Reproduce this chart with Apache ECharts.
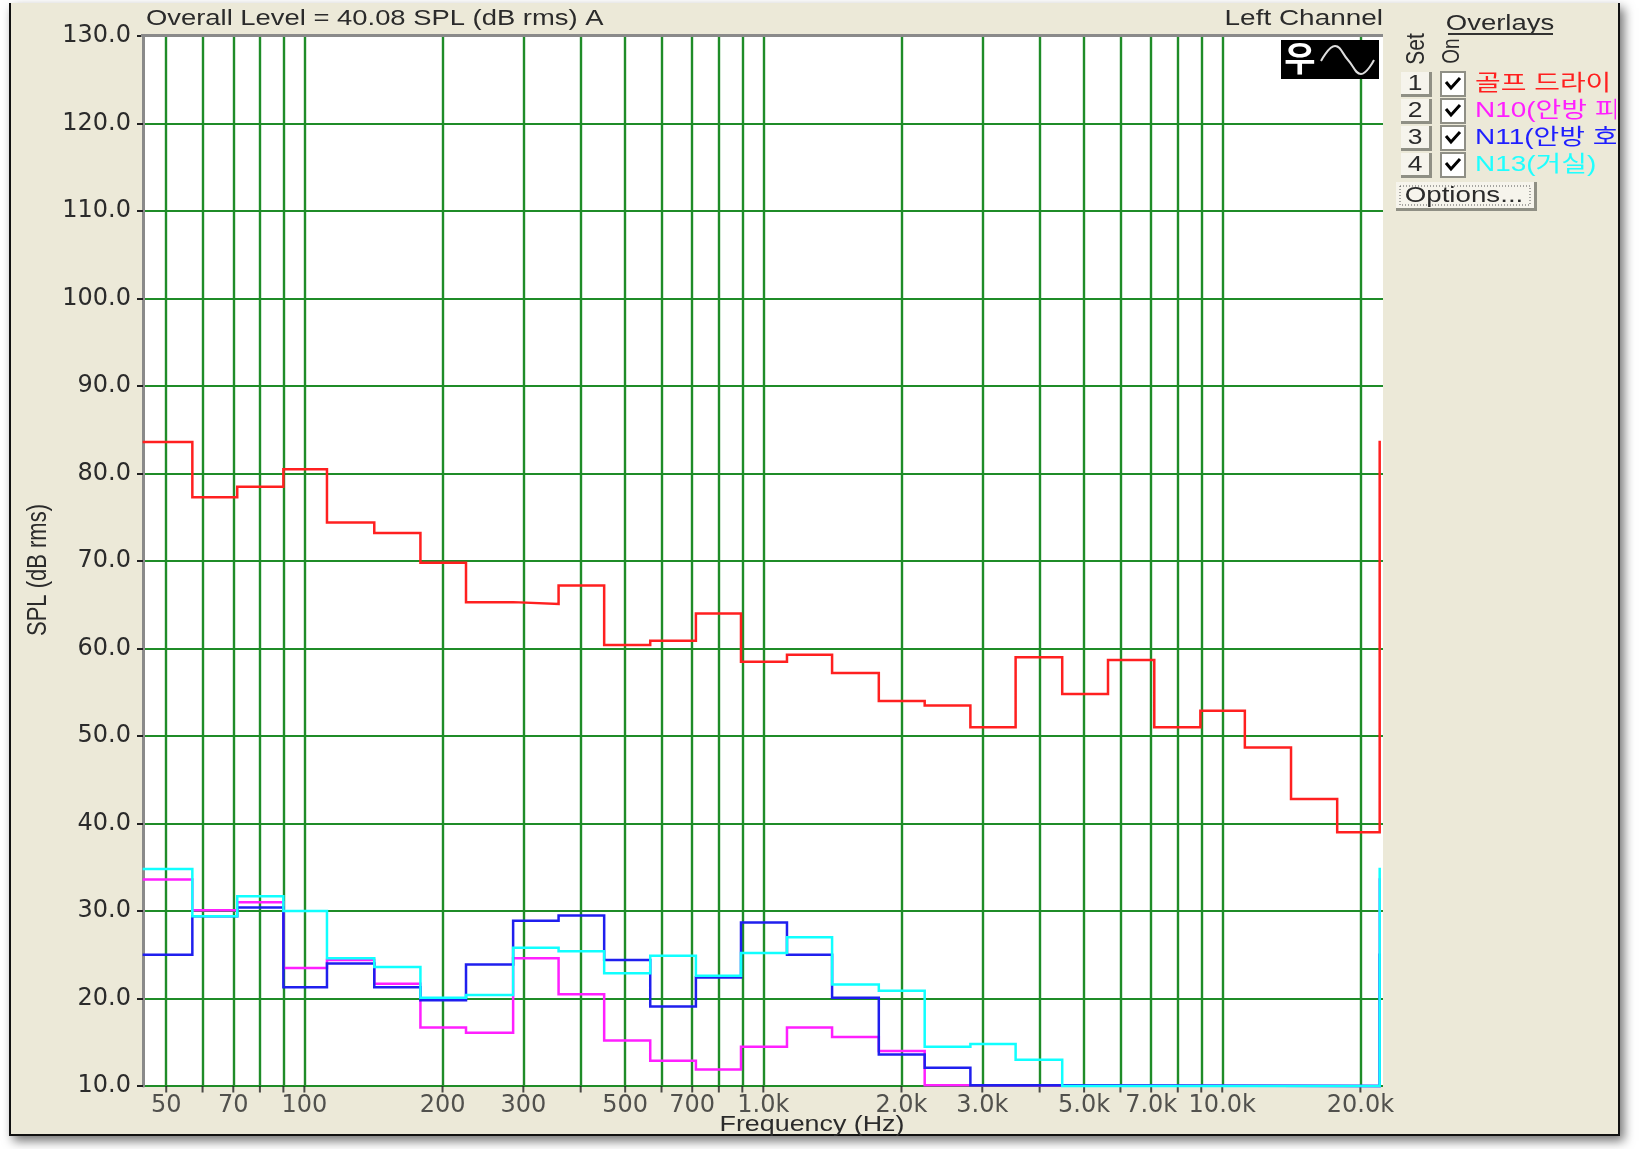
<!DOCTYPE html>
<html lang="en">
<head>
    <meta charset="UTF-8">
    <title>SPL overlays</title>
    <style>
        html, body { margin: 0; padding: 0; background: #fff; }
        #chart { width: 1644px; height: 1149px; }
    </style>
    <script src="https://cdn.jsdelivr.net/npm/echarts@6/dist/echarts.min.js"></script>
</head>
<body>
    <div id="chart"></div>
<script>
    // 1/3 octave band edges in Hz
    var bandEdges = [44.7, 57, 71.4, 90, 112, 142, 179, 225, 285, 358, 450, 567, 713, 894, 1126, 1412,
        1785, 2247, 2826, 3546, 4480, 5637, 7110, 8960, 11200, 14120, 17800, 22030];

    var golfValues = [83.6, 77.3, 78.5, 80.5, 74.4, 73.2, 69.8, 65.3, 65.1, 67.2, 60.4, 60.9, 64.0, 58.5, 59.3, 57.2,
        54.0, 53.5, 51.0, 59.0, 54.8, 58.7, 51.0, 52.9, 48.7, 42.8, 39.0];
    var n10Values = [33.6, 30.1, 31.0, 23.5, 24.4, 21.7, 16.7, 16.1, 24.6, 20.5, 15.2, 12.9, 11.9, 14.5, 16.7, 15.6,
        14.0, 10.1, 10, 10, 10, 10, 10, 10, 10, 10, 10];
    var n11Values = [25.0, 29.4, 30.4, 21.3, 24.0, 21.3, 19.8, 23.9, 28.9, 29.5, 24.4, 19.1, 22.4, 28.7, 25.0, 20.1,
        13.6, 12.1, 10.1, 10.1, 10, 10, 10, 10, 10, 10, 10];
    var n13Values = [34.8, 29.4, 31.7, 30.0, 24.6, 23.6, 20.1, 20.4, 25.8, 25.4, 22.9, 24.9, 22.6, 25.2, 27.0, 21.6,
        20.9, 14.5, 14.8, 13.0, 10, 10, 10, 10, 10, 10, 10];

    var gridFreqs = [50, 60, 70, 80, 90, 100, 200, 300, 400, 500, 600, 700, 800, 900, 1000, 2000, 3000, 4000, 5000,
        6000, 7000, 8000, 9000, 10000, 20000];
    var tickLabels = {50: '50', 70: '70', 100: '100', 200: '200', 300: '300', 500: '500', 700: '700', 1000: '1.0k',
        2000: '2.0k', 3000: '3.0k', 5000: '5.0k', 7000: '7.0k', 10000: '10.0k', 20000: '20.0k'};

    var overlayNames = ['골프 드라이', 'N10(안방 피', 'N11(안방 호', 'N13(거실)'];
    var overlayColors = ['#ff1f1f', '#ff1fff', '#1f1fff', '#1fffff'];

    var FONT = '"Liberation Sans", Arial, sans-serif';
    var AXIS_FONT = '"DejaVu Sans", sans-serif';
    var TEXT = '#2b2b2b';
    var PANEL = '#ece9d8';
    var GREEN = '#1f8c28';

    // steps, then the trace jumps back to the first band at the right edge
    function stepPoints(values) {
        var pts = [];
        for (var i = 0; i < values.length; i++) {
            if (i === 0 || values[i] !== values[i - 1]) {
                pts.push([bandEdges[i], values[i]]);
            }
            if (i === values.length - 1 || values[i] !== values[i + 1]) {
                pts.push([bandEdges[i + 1], values[i]]);
            }
        }
        pts.push([bandEdges[bandEdges.length - 1], values[0]]);
        return pts;
    }

    function traceSeries(name, values, color, z) {
        return {
            name: name,
            type: 'line',
            data: stepPoints(values),
            showSymbol: false,
            clip: false,
            z: z,
            lineStyle: { color: color, width: 2.5, cap: 'square', join: 'miter' }
        };
    }

    // the source window's text is stretched sideways, so scale it
    function label(text, x, y, size, align, stretch) {
        return {
            type: 'text', x: x, y: y, scaleX: stretch || 1, z: 50,
            style: { text: text, font: size + 'px ' + FONT, fill: TEXT, align: align || 'left', verticalAlign: 'middle' }
        };
    }

    function sideLabel(text, x, y, size) {
        return {
            type: 'text', x: x, y: y, rotation: Math.PI / 2, scaleY: 1.25, z: 50,
            style: { text: text, font: size + 'px ' + FONT, fill: TEXT, align: 'center', verticalAlign: 'middle' }
        };
    }

    function button(x, y, w, h) {
        return [
            { type: 'rect', shape: { x: x, y: y, width: w, height: h }, z: 40, style: { fill: '#8f8f84' } },
            { type: 'rect', shape: { x: x, y: y, width: w - 3, height: h - 3 }, z: 41, style: { fill: '#f6f4ec' } }
        ];
    }

    // overlay panel on the right and the window frame
    var graphics = [
        { type: 'rect', shape: { x: 9, y: 3, width: 1611, height: 1133 }, z: -20,
            style: { fill: '#111', shadowBlur: 10, shadowColor: 'rgba(0,0,0,0.55)', shadowOffsetX: 4, shadowOffsetY: 5 } },
        { type: 'rect', shape: { x: 11, y: 3, width: 1607, height: 1131 }, z: -19, style: { fill: PANEL } },
        { type: 'rect', shape: { x: 141, y: 34, width: 1242, height: 3 }, z: 20, style: { fill: '#8a8a8a' } },
        label('Overall Level = 40.08 SPL (dB rms) A', 146, 19, 22, 'left', 1.245),
        label('Left Channel', 1383, 19, 22, 'right', 1.27),
        label('Frequency (Hz)', 812, 1125, 22, 'center', 1.22),
        sideLabel('SPL (dB rms)', 38, 570, 22),
        // black filter badge
        { type: 'rect', shape: { x: 1281, y: 40, width: 98, height: 39 }, z: 30, style: { fill: '#000' } },
        { type: 'text', x: 1300, y: 58, z: 31,
            style: { text: '우', font: 'bold 34px "Noto Sans CJK KR"', fill: '#fff', align: 'center', verticalAlign: 'middle' } },
        { type: 'polyline', z: 31, shape: { points: [[1321, 61], [1335, 46], [1348, 60], [1361, 74], [1374, 60]], smooth: 0.45 },
            style: { stroke: '#ddd', fill: null, lineWidth: 2 } },
        label('Overlays', 1500, 24, 22, 'center', 1.25),
        { type: 'rect', shape: { x: 1448, y: 33, width: 105, height: 2 }, z: 50, style: { fill: '#333' } },
        sideLabel('Set', 1417, 49, 21),
        sideLabel('On', 1452, 51, 19)
    ];

    var rowY = [84, 111, 138, 165];
    overlayNames.forEach(function (name, i) {
        var y = rowY[i];
        graphics = graphics.concat(button(1401, y - 12, 31, 25));
        graphics.push(label(String(i + 1), 1415, y, 22, 'center', 1.2));
        graphics.push({ type: 'rect', shape: { x: 1441, y: y - 12, width: 24, height: 24 }, z: 40,
            style: { fill: '#fff', stroke: '#8f8f86', lineWidth: 2 } });
        graphics.push({ type: 'polyline', shape: { points: [[1446, y - 2], [1451, y + 4], [1460, y - 6]] }, z: 41,
            style: { stroke: '#000', fill: null, lineWidth: 3 } });
        graphics.push({ type: 'text', x: 1475, y: y, scaleX: 1.27, z: 45,
            style: { text: name, font: '22px ' + FONT + ', "Noto Sans CJK KR"', fill: overlayColors[i], align: 'left', verticalAlign: 'middle' } });
    });
    graphics = graphics.concat(button(1396, 182, 141, 29));
    graphics.push(
        { type: 'rect', shape: { x: 1400, y: 186, width: 130, height: 19 }, z: 42, style: { fill: 'none', stroke: '#555', lineWidth: 1, lineDash: [1, 2] } },
        label('Options...', 1464, 196, 22, 'center', 1.26),
        // names run past the panel and get cut off by the frame
        { type: 'rect', shape: { x: 1616, y: 60, width: 2, height: 120 }, z: 47, style: { fill: PANEL } },
        { type: 'rect', shape: { x: 1618, y: 60, width: 2, height: 120 }, z: 47, style: { fill: '#111' } }
    );

    var chart = echarts.init(document.getElementById('chart'), null, { renderer: 'canvas' });
    chart.setOption({
        animation: false,
        backgroundColor: '#fff',
        graphic: graphics,
        grid: { left: 143, right: 261, top: 36, bottom: 63, show: true, backgroundColor: '#fff', borderWidth: 0 },
        xAxis: {
            type: 'log',
            logBase: 10,
            min: 44.5,
            max: 22400,
            axisLine: { show: false },
            axisTick: { show: false },
            axisLabel: { show: false },
            splitLine: { show: false },
            minorSplitLine: { show: false }
        },
        yAxis: {
            type: 'value',
            min: 10,
            max: 130,
            interval: 10,
            axisLine: { show: true, lineStyle: { color: '#8a8a8a', width: 3 } },
            axisTick: { show: true, length: 6, lineStyle: { color: '#222', width: 2 } },
            axisLabel: {
                fontFamily: AXIS_FONT, fontSize: 24, color: TEXT, margin: 12, padding: [6, 0, 0, 0],
                formatter: function (v) { return v.toFixed(1); }
            },
            splitLine: { show: true, lineStyle: { color: GREEN, width: 2 } }
        },
        series: [
            {
                // vertical grid, tick marks and frequency labels
                type: 'scatter',
                data: gridFreqs.map(function (f) { return [f, 10]; }),
                symbol: 'rect',
                symbolSize: [2, 7],
                symbolOffset: [0, 3],
                clip: false,
                silent: true,
                z: 2,
                itemStyle: { color: '#222' },
                label: {
                    show: true,
                    position: 'bottom',
                    distance: 1,
                    fontFamily: AXIS_FONT,
                    fontSize: 24,
                    color: TEXT,
                    formatter: function (p) { return tickLabels[p.value[0]] || ''; }
                },
                markLine: {
                    silent: true,
                    symbol: 'none',
                    label: { show: false },
                    lineStyle: { color: GREEN, width: 2.4, type: 'solid' },
                    data: gridFreqs.map(function (f) { return { xAxis: f }; })
                }
            },
            traceSeries('골프 드라이', golfValues, '#ff2020', 5),
            traceSeries('N10', n10Values, '#ff1fff', 6),
            traceSeries('N11', n11Values, '#1f1fee', 7),
            traceSeries('N13', n13Values, '#10ffff', 8)
        ]
    });
</script>
</body>
</html>
